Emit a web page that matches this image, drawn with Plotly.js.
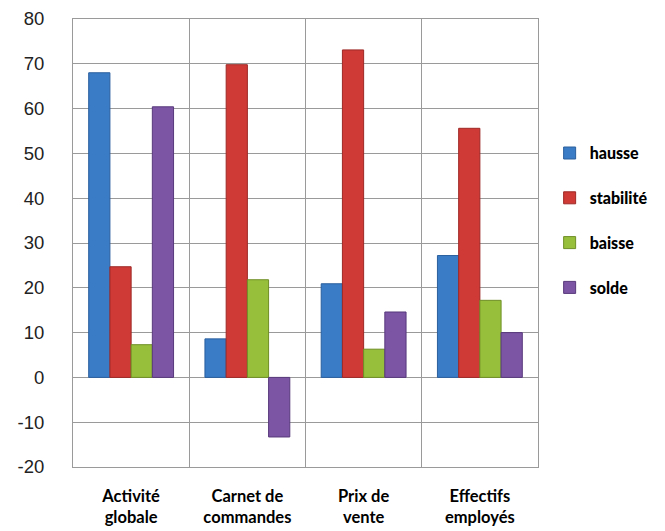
<!DOCTYPE html>
<html>
<head>
<meta charset="utf-8">
<script src="https://cdn.plot.ly/plotly-3.0.1.min.js"></script>
<style>html,body{margin:0;padding:0;background:#fff;}#chart{width:665px;height:531px;}</style>
</head>
<body>
<div id="chart"></div>
<script>
const categories = ["Activité<br>globale", "Carnet de<br>commandes", "Prix de<br>vente", "Effectifs<br>employés"];
const hausse = [68, 8.6, 20.9, 27.2];
const stabilite = [24.7, 69.8, 73.1, 55.6];
const baisse = [7.3, 21.8, 6.3, 17.2];
const solde = [60.4, -13.3, 14.6, 10.0];
const seriesNames = ["hausse", "stabilité", "baisse", "solde"];
const seriesColors = ["#3a7cc6", "#cf3a36", "#98bf3c", "#7c55a4"];
const lineColors = ["#2a5f9e", "#9e2926", "#6f8f26", "#58397c"];
const tickVals = [-20, -10, 0, 10, 20, 30, 40, 50, 60, 70, 80];

const values = [hausse, stabilite, baisse, solde];
const traces = values.map((v, i) => ({
  type: "bar",
  name: seriesNames[i],
  x: categories,
  y: v,
  legendgroup: "g" + i,
  marker: { color: seriesColors[i], line: { color: lineColors[i], width: 1 } },
  hoverinfo: "y+name"
}));

const layout = {
  width: 665, height: 531,
  margin: { l: 73, r: 127, t: 19, b: 64 },
  paper_bgcolor: "#fff", plot_bgcolor: "#fff",
  barmode: "group",
  bargap: 0.27,
  bargroupgap: 0,
  showlegend: true,
  legend: {
    x: 1.025, xanchor: "left", y: 0.55, yanchor: "middle",
    font: { family: "Lato, 'Open Sans', sans-serif", size: 16, color: "#000", weight: 900 },
    tracegroupgap: 21,
    itemwidth: 30
  },
  xaxis: {
    type: "category",
    tickson: "boundaries",
    showgrid: true, gridcolor: "#9a9a9a", gridwidth: 1,
    showline: true, linecolor: "#9a9a9a", linewidth: 1, mirror: true,
    ticks: "", ticklen: 0,
    ticklabelstandoff: 14,
    tickfont: { family: "Lato, 'Open Sans', sans-serif", size: 16.5, color: "#000", weight: "bold" },
    automargin: false
  },
  yaxis: {
    range: [-20, 80],
    tickvals: tickVals,
    ticktext: tickVals.map(String),
    showgrid: true, gridcolor: "#9a9a9a", gridwidth: 1,
    zeroline: false,
    showline: true, linecolor: "#9a9a9a", linewidth: 1, mirror: true,
    ticks: "",
    ticklabelstandoff: 24,
    tickfont: { family: "'Liberation Sans', Arial, sans-serif", size: 18.5, color: "#222" },
    automargin: false
  }
};

Plotly.newPlot("chart", traces, layout, { displayModeBar: false, staticPlot: true });
</script>
</body>
</html>
